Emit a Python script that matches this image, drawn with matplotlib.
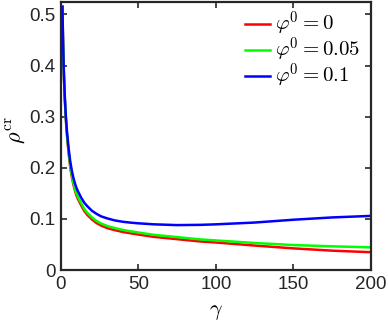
import numpy as np
import matplotlib
matplotlib.use("Agg")
import matplotlib.pyplot as plt

plt.rcParams['font.family'] = ['Liberation Sans', 'DejaVu Sans']
plt.rcParams['mathtext.fontset'] = 'cm'

# values
gamma = [1, 1.25, 1.5, 1.75, 2, 2.5, 3, 3.5, 4, 5, 6, 7, 8, 9, 10, 11, 12, 13, 15, 17, 20, 23, 26,
         30, 35, 40, 45, 50, 60, 75, 90, 100, 125, 150, 175, 200]
rho_phi0 = [0.515, 0.465, 0.43, 0.40, 0.375, 0.335, 0.305, 0.28, 0.26, 0.228, 0.202, 0.183, 0.168,
            0.156, 0.146, 0.139, 0.133, 0.127, 0.116, 0.108, 0.099, 0.092, 0.087,
            0.082, 0.078, 0.0745, 0.072, 0.0695, 0.065, 0.0605, 0.056, 0.054, 0.048, 0.0425, 0.038, 0.035]
rho_phi005 = [0.515, 0.466, 0.43, 0.401, 0.376, 0.337, 0.307, 0.282, 0.262, 0.231, 0.205, 0.186, 0.171,
              0.159, 0.150, 0.143, 0.137, 0.131, 0.120, 0.112, 0.103, 0.096, 0.091,
              0.086, 0.082, 0.0785, 0.0758, 0.0735, 0.069, 0.0645, 0.060, 0.058, 0.053, 0.049, 0.0465, 0.0445]
rho_phi01 = [0.515, 0.468, 0.432, 0.403, 0.378, 0.34, 0.31, 0.287, 0.268, 0.237, 0.213, 0.195, 0.181,
             0.170, 0.161, 0.154, 0.148, 0.142, 0.132, 0.125, 0.116, 0.110, 0.105,
             0.101, 0.097, 0.0945, 0.0928, 0.0915, 0.0895, 0.088, 0.0885, 0.0895, 0.093, 0.0985, 0.103, 0.106]
labels = [r'$\varphi^0 = 0$', r'$\varphi^0 = 0.05$', r'$\varphi^0 = 0.1$']
colors = ['#ff0000', '#00ff00', '#0000ff']

fig = plt.figure(figsize=(3.88, 3.27), dpi=100)
ax = fig.add_axes([0.157, 0.174, 0.799, 0.821])

for y, lab, c in zip([rho_phi0, rho_phi005, rho_phi01], labels, colors):
    ax.plot(gamma, y, color=c, lw=1.8, label=lab)

ax.set_xlim(0, 200)
ax.set_ylim(0, 0.525)
ax.set_xticks([0, 50, 100, 150, 200])
ax.set_yticks([0, 0.1, 0.2, 0.3, 0.4, 0.5])
ax.set_yticklabels(['0', '0.1', '0.2', '0.3', '0.4', '0.5'])
ax.tick_params(direction='in', top=True, right=True, labelsize=13.5, colors='#262626',
               length=4, width=1.2, pad=4)
for s in ax.spines.values():
    s.set_linewidth(1.6)
    s.set_color('#262626')

ax.set_xlabel(r'$\gamma$', fontsize=16, labelpad=6)
ax.set_ylabel(r'$\rho^{\rm cr}$', fontsize=16, labelpad=2)
ax.yaxis.set_label_coords(-0.105, 0.52)

ax.legend(loc='upper right', bbox_to_anchor=(0.99, 1.0), frameon=False, fontsize=15,
          handlelength=1.2, handletextpad=0.2, labelspacing=-0.1, borderaxespad=0.0)

fig.savefig('out.png', dpi=100)
